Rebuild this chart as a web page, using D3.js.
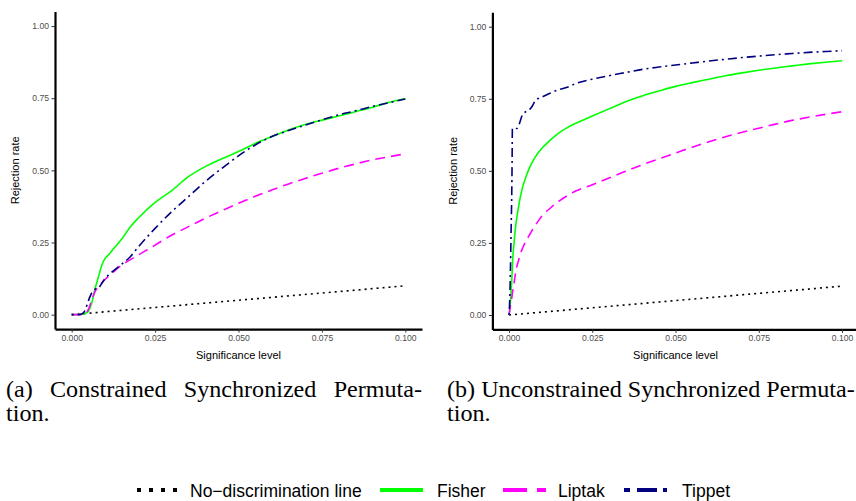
<!DOCTYPE html>
<head>
<meta charset="utf-8">
<style>
  body { margin: 0; background: #fff; }
  svg { display: block; }
</style>
</head>
<body>
<svg width="856" height="501"></svg>
<script src="https://d3js.org/d3.v7.min.js"></script>
<script>
// tick values shared by both panels
var xTicks = [0, 0.025, 0.05, 0.075, 0.1];
var yTicks = [0, 0.25, 0.5, 0.75, 1];

// no-discrimination line (rejection rate = significance level)
var noDiscLevel = [0, 0.1];
var noDiscRate = [0, 0.1];

// (a) constrained synchronized permutation
var cspLevel  = [0, 0.002, 0.003, 0.004, 0.005, 0.006, 0.007, 0.008, 0.009, 0.010, 0.011, 0.0125, 0.015, 0.0175, 0.02, 0.025, 0.03, 0.035, 0.04, 0.045, 0.05, 0.055, 0.06, 0.065, 0.07, 0.075, 0.08, 0.085, 0.09, 0.095, 0.1];
var cspFisher = [0, 0, 0.002, 0.004, 0.012, 0.04, 0.09, 0.13, 0.17, 0.195, 0.207, 0.228, 0.262, 0.303, 0.335, 0.389, 0.43, 0.478, 0.513, 0.54, 0.565, 0.593, 0.617, 0.64, 0.659, 0.674, 0.688, 0.703, 0.718, 0.735, 0.749];
var cspLiptak = [0, 0, 0.001, 0.003, 0.018, 0.05, 0.08, 0.097, 0.11, 0.122, 0.132, 0.148, 0.172, 0.19, 0.207, 0.241, 0.276, 0.305, 0.334, 0.36, 0.386, 0.41, 0.432, 0.453, 0.472, 0.49, 0.507, 0.522, 0.536, 0.547, 0.557];
var cspTippet = [0, 0, 0.002, 0.015, 0.048, 0.075, 0.088, 0.092, 0.108, 0.125, 0.137, 0.152, 0.175, 0.2, 0.235, 0.299, 0.357, 0.409, 0.461, 0.507, 0.55, 0.588, 0.617, 0.638, 0.657, 0.675, 0.692, 0.706, 0.721, 0.734, 0.747];

// (b) unconstrained synchronized permutation
var uspLevel  = [0, 0.0002, 0.0006, 0.0009, 0.001, 0.0015, 0.002, 0.0025, 0.003, 0.0035, 0.004, 0.005, 0.006, 0.007, 0.008, 0.009, 0.010, 0.0125, 0.015, 0.0175, 0.02, 0.025, 0.03, 0.035, 0.04, 0.045, 0.05, 0.055, 0.06, 0.065, 0.07, 0.075, 0.08, 0.085, 0.09, 0.095, 0.1];
var uspFisher = [0, 0.02, 0.08, 0.14, 0.17, 0.25, 0.31, 0.35, 0.385, 0.415, 0.44, 0.477, 0.507, 0.53, 0.55, 0.566, 0.58, 0.608, 0.632, 0.65, 0.665, 0.69, 0.715, 0.74, 0.76, 0.777, 0.793, 0.806, 0.818, 0.83, 0.84, 0.849, 0.857, 0.864, 0.871, 0.877, 0.882];
var uspLiptak = [0, 0.015, 0.045, 0.065, 0.075, 0.11, 0.15, 0.175, 0.195, 0.215, 0.23, 0.255, 0.275, 0.295, 0.313, 0.33, 0.345, 0.372, 0.395, 0.414, 0.43, 0.452, 0.475, 0.499, 0.521, 0.542, 0.562, 0.582, 0.601, 0.618, 0.634, 0.648, 0.662, 0.675, 0.686, 0.696, 0.705];
var uspTippet = [0, 0.05, 0.28, 0.51, 0.647, 0.647, 0.647, 0.648, 0.66, 0.678, 0.694, 0.705, 0.711, 0.725, 0.746, 0.752, 0.757, 0.77, 0.782, 0.79, 0.803, 0.818, 0.83, 0.841, 0.852, 0.86, 0.867, 0.874, 0.881, 0.887, 0.893, 0.898, 0.903, 0.907, 0.911, 0.914, 0.917];

var captionA = ["(a) Constrained Synchronized Permuta-", "tion."];
var captionB = ["(b) Unconstrained Synchronized Permuta-", "tion."];

var seriesNames = ["No\u2212discrimination line", "Fisher", "Liptak", "Tippet"];

// styles
var seriesColors = ["#000000", "#00ff00", "#ff00ff", "#000080"];
var lineDash = ["2,4", null, "10,6", "2,4,9,4"];
var keyDash = ["4,8", null, "24,10", "6,7,20,6"];
var sansFont = "'Liberation Sans', Arial, sans-serif";
var serifFont = "'Liberation Serif', 'Times New Roman', serif";

var svg = d3.select("svg");

var panels = [
  { level: cspLevel, rates: [cspFisher, cspLiptak, cspTippet],
    left: 55, right: 422, top: 11.6, bottom: 329.1, titleX: 19 },
  { level: uspLevel, rates: [uspFisher, uspLiptak, uspTippet],
    left: 492.4, right: 858.7, top: 12.3, bottom: 329.4, titleX: 456.5 }
];

var line = d3.line().curve(d3.curveMonotoneX);

panels.forEach(function(p) {
  var x = d3.scaleLinear().domain([-0.005, 0.105]).range([p.left, p.right]);
  var y = d3.scaleLinear().domain([-0.05, 1.05]).range([p.bottom, p.top]);
  var g = svg.append("g");

  var series = [{ xs: noDiscLevel, ys: noDiscRate }].concat(p.rates.map(function(r) {
    return { xs: p.level, ys: r };
  }));

  g.selectAll("path.series")
    .data(series)
    .enter().append("path")
      .attr("class", "series")
      .attr("fill", "none")
      .attr("stroke", function(d, i) { return seriesColors[i]; })
      .attr("stroke-width", 1.6)
      .attr("stroke-dasharray", function(d, i) { return lineDash[i]; })
      .attr("d", function(d) {
        return line(d.xs.map(function(v, j) { return [x(v), y(d.ys[j])]; }));
      });

  var xAxis = g.append("g")
      .attr("transform", "translate(0," + p.bottom + ")")
      .call(d3.axisBottom(x).tickValues(xTicks).tickFormat(d3.format(".3f"))
        .tickSize(3.5).tickSizeOuter(0).tickPadding(2.5));

  var yAxis = g.append("g")
      .attr("transform", "translate(" + p.left + ",0)")
      .call(d3.axisLeft(y).tickValues(yTicks).tickFormat(d3.format(".2f"))
        .tickSize(3.5).tickSizeOuter(0).tickPadding(2.5));

  [xAxis, yAxis].forEach(function(a) {
    a.attr("font-family", sansFont).attr("font-size", 8.6);
    a.select(".domain").attr("stroke", "#000").attr("stroke-width", 2.2);
    a.selectAll(".tick line").attr("stroke", "#333").attr("stroke-width", 1);
    a.selectAll(".tick text").attr("fill", "#4d4d4d");
  });

  g.append("text")
      .attr("x", (p.left + p.right) / 2)
      .attr("y", 359)
      .attr("text-anchor", "middle")
      .attr("font-family", sansFont)
      .attr("font-size", 11)
      .text("Significance level");

  g.append("text")
      .attr("transform", "translate(" + p.titleX + "," + ((p.top + p.bottom) / 2) + ")rotate(-90)")
      .attr("text-anchor", "middle")
      .attr("font-family", sansFont)
      .attr("font-size", 11)
      .text("Rejection rate");
});

// captions: size the font so line (b) spans its width, justify line (a)
var probe = svg.append("text")
    .attr("font-family", serifFont)
    .attr("font-size", 20)
    .text(captionB[0]);
var capSize = 20 * 408 / probe.node().getComputedTextLength();
probe.remove();

var capB = svg.append("g")
    .attr("font-family", serifFont)
    .attr("font-size", capSize);
capB.selectAll("text")
  .data(captionB)
  .enter().append("text")
    .attr("x", 447)
    .attr("y", function(d, i) { return 397 + i * 23.5; })
    .text(function(d) { return d; });

var capA = svg.append("g")
    .attr("font-family", serifFont)
    .attr("font-size", capSize);
var words = captionA[0].split(" ");
var wordText = capA.selectAll("text.word")
  .data(words)
  .enter().append("text")
    .attr("class", "word")
    .attr("y", 397)
    .text(function(d) { return d; });
var widths = [];
wordText.each(function() { widths.push(this.getComputedTextLength()); });
var gap = (422 - 6 - d3.sum(widths)) / (words.length - 1);
var cx = 6;
wordText.attr("x", function(d, i) { var v = cx; cx += widths[i] + gap; return v; });
capA.append("text")
    .attr("x", 6)
    .attr("y", 397 + 23.5)
    .text(captionA[1]);

// legend
var keyX = [137, 380, 503, 624];
var labelX = [190, 437, 558, 682];
var legend = svg.append("g");
legend.selectAll("line")
  .data(seriesNames)
  .enter().append("line")
    .attr("x1", function(d, i) { return keyX[i]; })
    .attr("x2", function(d, i) { return keyX[i] + 43; })
    .attr("y1", 490)
    .attr("y2", 490)
    .attr("stroke", function(d, i) { return seriesColors[i]; })
    .attr("stroke-width", 4)
    .attr("stroke-dasharray", function(d, i) { return keyDash[i]; });
legend.selectAll("text")
  .data(seriesNames)
  .enter().append("text")
    .attr("x", function(d, i) { return labelX[i]; })
    .attr("y", 496.5)
    .attr("font-family", sansFont)
    .attr("font-size", 17.5)
    .text(function(d) { return d; });
</script>
</body>
